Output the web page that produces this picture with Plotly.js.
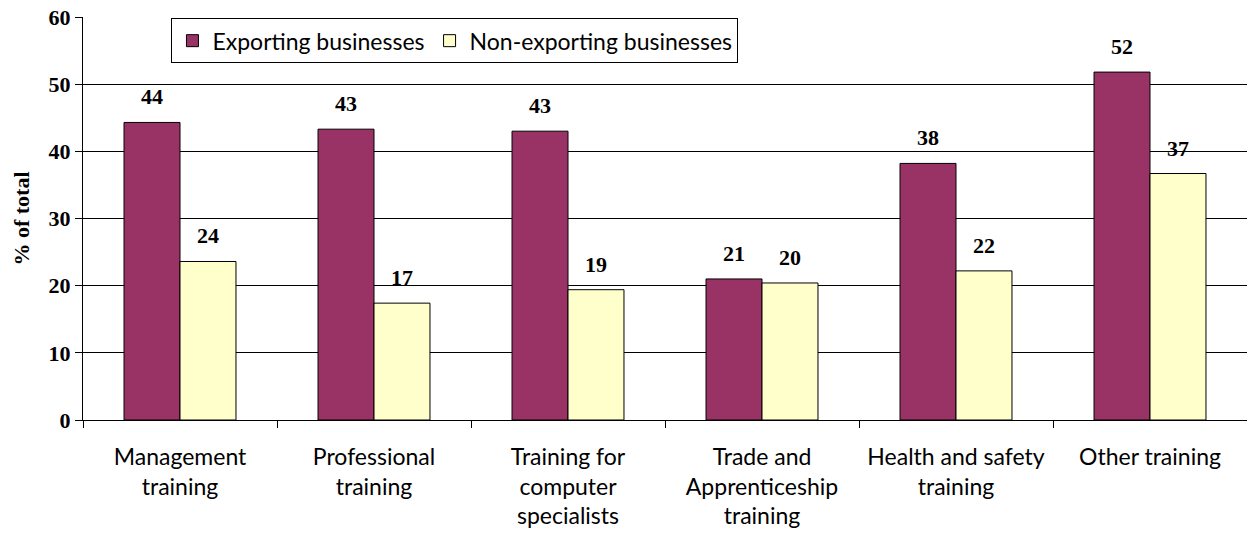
<!DOCTYPE html>
<html>
<head>
<meta charset="utf-8">
<script src="https://cdn.plot.ly/plotly-3.0.1.min.js"></script>
<style>html,body{margin:0;padding:0;background:#fff;}#chart{width:1247px;height:535px;}</style>
</head>
<body>
<div id="chart"></div>
<script>
var categories = ["Management<br>training", "Professional<br>training", "Training for<br>computer<br>specialists", "Trade and<br>Apprenticeship<br>training", "Health and safety<br>training", "Other training"];
var exporting = [44.3, 43.3, 43.0, 21.0, 38.2, 51.8];
var nonExporting = [23.6, 17.4, 19.4, 20.4, 22.2, 36.7];
var seriesNames = ["Exporting businesses", "Non-exporting businesses"];
var yTicks = [0, 10, 20, 30, 40, 50, 60];

var serif = "Liberation Serif, Times New Roman, serif";
var sans = "Lato, Open Sans, sans-serif";

var traces = [
  {type: "bar", name: seriesNames[0], x: categories, y: exporting,
   marker: {color: "#993366", line: {color: "#000", width: 1}}},
  {type: "bar", name: seriesNames[1], x: categories, y: nonExporting,
   marker: {color: "#FFFFCC", line: {color: "#000", width: 1}}}
];

var annotations = [];
[exporting, nonExporting].forEach(function(vals, s) {
  vals.forEach(function(v, i) {
    annotations.push({x: categories[i], y: v, xref: "x", yref: "y",
      text: String(Math.round(v)), showarrow: false, yanchor: "bottom",
      xshift: s === 0 ? -28 : 28, yshift: 11,
      font: {family: serif, size: 22, color: "#000", weight: "bold"}});
  });
});

var layout = {
  width: 1247, height: 535,
  margin: {l: 83, r: 0, t: 17, b: 115},
  paper_bgcolor: "#fff", plot_bgcolor: "#fff",
  barmode: "group", bargap: 0.423, bargroupgap: 0,
  showlegend: true,
  legend: {orientation: "h", x: 0.076, y: 0.997, xanchor: "left", yanchor: "top",
    bgcolor: "#fff", bordercolor: "#000", borderwidth: 1,
    font: {family: sans, size: 23, color: "#000"}, traceorder: "normal",
    itemwidth: 30, tracegroupgap: 0},
  xaxis: {type: "category", tickson: "boundaries", ticks: "outside", ticklen: 7,
    tickcolor: "#000", showline: true, linecolor: "#000", linewidth: 1,
    showgrid: false, ticklabelstandoff: 16,
    tickfont: {family: sans, size: 23, color: "#000"}, fixedrange: true},
  yaxis: {range: [0, 60], tickvals: yTicks, ticktext: yTicks.map(String), ticks: "outside",
    ticklen: 7, tickcolor: "#000", showline: true, linecolor: "#000", linewidth: 1,
    showgrid: true, gridcolor: "#000", gridwidth: 1, zeroline: false,
    tickfont: {family: serif, size: 22, color: "#000", weight: "bold"},
    title: {text: "% of total", font: {family: serif, size: 22, color: "#000", weight: "bold"}, standoff: 12},
    fixedrange: true},
  annotations: annotations
};

Plotly.newPlot("chart", traces, layout, {displayModeBar: false, staticPlot: true});
</script>
</body>
</html>
